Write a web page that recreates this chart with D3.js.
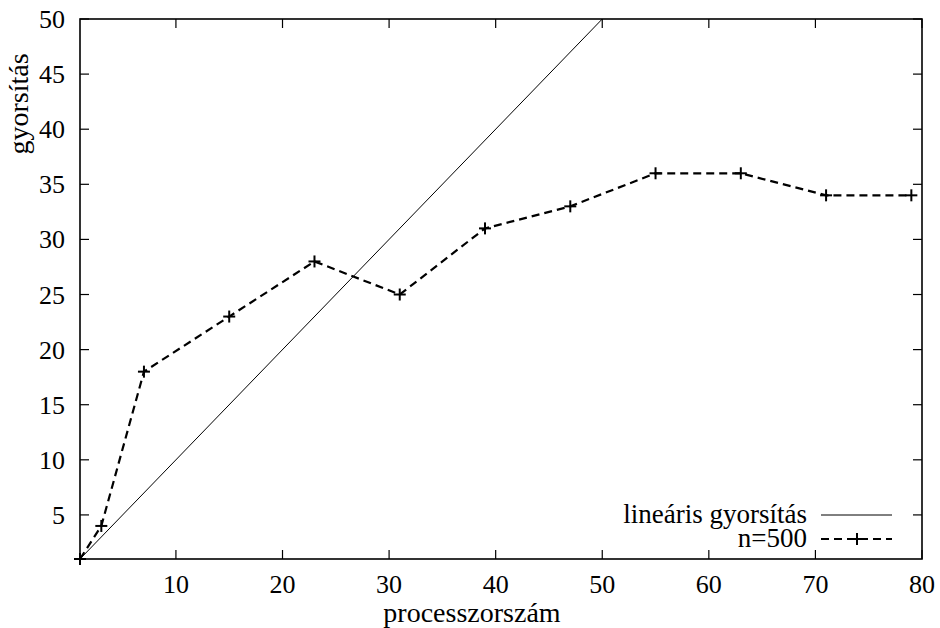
<!DOCTYPE html>
<html lang="hu">
<head>
  <meta charset="UTF-8" />
  <title>gyorsítás</title>
  <style>
    html, body { margin: 0; padding: 0; background: #fff; }
    svg { display: block; }
    text { font-family: "Liberation Serif", "Times New Roman", Times, "DejaVu Serif", serif; fill: #000; }
  </style>
</head>
<body>
<svg id="chart" width="940" height="628"></svg>
<script src="https://d3js.org/d3.v7.min.js"></script>
<script>
  // measured data
  const procs = [1, 3, 7, 15, 23, 31, 39, 47, 55, 63, 71, 79];
  const speedup = [1, 4, 18, 23, 28, 25, 31, 33, 36, 36, 34, 34];
  const linearX = [1, 50];
  const xTicks = [10, 20, 30, 40, 50, 60, 70, 80];
  const yTicks = [5, 10, 15, 20, 25, 30, 35, 40, 45, 50];
  const legendLabels = ["lineáris gyorsítás", "n=500"];

  const svg = d3.select("#chart");
  const box = { left: 80, right: 922, top: 19, bottom: 559 };
  const tickFs = 26, labelFs = 28, legendFs = 27;

  const x = d3.scaleLinear().domain([1, 80]).range([box.left, box.right]);
  const y = d3.scaleLinear().domain([1, 50]).range([box.bottom, box.top]);
  const tickLen = 9;

  // ticks on all four sides, pointing inward
  const g = svg.append("g").attr("stroke", "#000").attr("stroke-width", 1.2);
  xTicks.forEach(t => {
    g.append("line").attr("x1", x(t)).attr("x2", x(t)).attr("y1", box.bottom).attr("y2", box.bottom - tickLen);
    g.append("line").attr("x1", x(t)).attr("x2", x(t)).attr("y1", box.top).attr("y2", box.top + tickLen);
  });
  yTicks.forEach(t => {
    g.append("line").attr("x1", box.left).attr("x2", box.left + tickLen).attr("y1", y(t)).attr("y2", y(t));
    g.append("line").attr("x1", box.right).attr("x2", box.right - tickLen).attr("y1", y(t)).attr("y2", y(t));
  });

  svg.append("g").selectAll("text").data(xTicks).enter().append("text")
    .attr("x", d => x(d)).attr("y", 593)
    .attr("text-anchor", "middle").attr("font-size", tickFs)
    .text(d => d);
  svg.append("g").selectAll("text").data(yTicks).enter().append("text")
    .attr("x", box.left - 15).attr("y", d => y(d) + 9)
    .attr("text-anchor", "end").attr("font-size", tickFs)
    .text(d => d);

  // axis titles
  svg.append("text").attr("x", 472).attr("y", 622)
    .attr("text-anchor", "middle").attr("font-size", labelFs).text("processzorszám");
  svg.append("text").attr("transform", "translate(28,104) rotate(-90)")
    .attr("text-anchor", "middle").attr("font-size", labelFs).text("gyorsítás");

  // plot clip
  svg.append("clipPath").attr("id", "clip").append("rect")
    .attr("x", box.left).attr("y", box.top)
    .attr("width", box.right - box.left).attr("height", box.bottom - box.top);

  const line = d3.line().x(d => x(d[0])).y(d => y(d[1]));

  svg.append("path")
    .datum(linearX.map(v => [v, v]))
    .attr("clip-path", "url(#clip)")
    .attr("fill", "none").attr("stroke", "#000").attr("stroke-width", 1)
    .attr("d", line);

  const pts = procs.map((p, i) => [p, speedup[i]]);
  svg.append("path")
    .datum(pts)
    .attr("fill", "none").attr("stroke", "#000").attr("stroke-width", 2.2)
    .attr("stroke-dasharray", "8,5")
    .attr("d", line);

  const plus = (sel, cx, cy) => {
    sel.append("line").attr("x1", cx - 6).attr("x2", cx + 6).attr("y1", cy).attr("y2", cy);
    sel.append("line").attr("x1", cx).attr("x2", cx).attr("y1", cy - 6).attr("y2", cy + 6);
  };
  const marks = svg.append("g").attr("stroke", "#000").attr("stroke-width", 2);
  pts.forEach(d => plus(marks, x(d[0]), y(d[1])));

  // legend
  const legY = [515, 539];
  const leg = svg.append("g");
  legendLabels.forEach((lab, i) => {
    leg.append("text").attr("x", 807).attr("y", legY[i] + 8)
      .attr("text-anchor", "end").attr("font-size", legendFs).text(lab);
  });
  leg.append("line").attr("x1", 821).attr("x2", 892).attr("y1", legY[0]).attr("y2", legY[0])
    .attr("stroke", "#000").attr("stroke-width", 1);
  leg.append("line").attr("x1", 821).attr("x2", 892).attr("y1", legY[1]).attr("y2", legY[1])
    .attr("stroke", "#000").attr("stroke-width", 2.2).attr("stroke-dasharray", "8,5");
  plus(leg.append("g").attr("stroke", "#000").attr("stroke-width", 2), 857, legY[1]);

  // frame
  svg.append("rect").attr("x", box.left).attr("y", box.top)
    .attr("width", box.right - box.left).attr("height", box.bottom - box.top)
    .attr("fill", "none").attr("stroke", "#000").attr("stroke-width", 1.6);
</script>
</body>
</html>
